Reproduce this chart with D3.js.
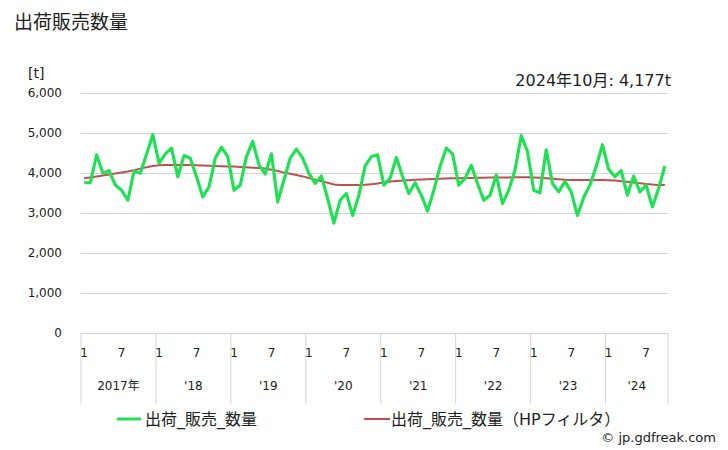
<!DOCTYPE html>
<html><head><meta charset="utf-8">
<script src="https://cdn.jsdelivr.net/npm/d3@7"></script>
<style>
body{margin:0;background:#fff;}
text{font-family:"DejaVu Sans","Noto Sans CJK JP",sans-serif;fill:#222;}
</style></head><body>
<svg id="c" width="728" height="450"></svg>
<script>
const years = ["2017年","'18","'19","'20","'21","'22","'23","'24"];
const monthsPerYear = [12,12,12,12,12,12,12,10];
const yTicks = [0,1000,2000,3000,4000,5000,6000];
const shipments = [
 3756,3756,4454,3992,4059,3697,3571,3319,4050,3992,4470,4958,
 4244,4479,4622,3908,4437,4370,3908,3403,3655,4370,4647,4412,
 3571,3697,4412,4790,4202,3975,4479,3277,3824,4370,4597,4370,
 3992,3739,3924,3361,2748,3319,3487,2941,3445,4176,4412,4454,
 3697,3866,4387,3908,3487,3756,3445,3050,3571,4160,4622,4479,
 3697,3866,4193,3739,3319,3445,3950,3235,3571,4076,4933,4538,
 3571,3504,4580,3739,3529,3790,3529,2941,3387,3697,4160,4706,
 4092,3908,4059,3445,3924,3529,3697,3151,3613,4177
];
const hpTrend = [
 3866,3890,3915,3940,3965,3990,4010,4035,4070,4110,4145,4176,
 4195,4200,4202,4202,4200,4198,4195,4190,4182,4176,4170,4165,
 4160,4152,4143,4132,4122,4110,4080,4050,4010,3980,3950,3915,
 3875,3835,3795,3755,3712,3700,3697,3697,3698,3705,3720,3735,
 3760,3785,3800,3810,3820,3830,3840,3845,3850,3856,3862,3868,
 3870,3872,3876,3880,3882,3885,3887,3889,3890,3891,3891,3891,
 3888,3880,3870,3856,3842,3830,3824,3824,3824,3824,3824,3824,
 3820,3810,3795,3780,3762,3745,3725,3712,3703,3697
];
const seriesNames = ["出荷_販売_数量","出荷_販売_数量（HPフィルタ）"];
const latestLabel = "2024年10月: 4,177t";

const svg = d3.select("#c");
const pLeft = 81, pRight = 668, pTop = 93, pBottom = 333;
const n = shipments.length;
const x = d3.scaleBand().domain(d3.range(n)).range([pLeft, pRight]).paddingInner(0).paddingOuter(0);
const y = d3.scaleLinear().domain([0,6000]).range([pBottom, pTop]);
const cx = i => x(i) + x.bandwidth()/2;

// title
svg.append("text").attr("x",14).attr("y",29).attr("font-size",19).text("出荷販売数量");
svg.append("text").attr("x",28).attr("y",78).attr("font-size",14).text("[t]");
svg.append("text").attr("x",671).attr("y",86).attr("font-size",16).attr("text-anchor","end").text(latestLabel);

// grid
const yAxis = d3.axisLeft(y).tickValues(yTicks).tickSize(-(pRight-pLeft)).tickFormat(d3.format(","));
const gy = svg.append("g").attr("transform",`translate(${pLeft},0)`).call(yAxis);
gy.select(".domain").remove();
gy.selectAll(".tick line").attr("stroke","#d4d4d4").attr("stroke-width",1);
gy.selectAll(".tick text").attr("x",-19).attr("font-size",12).attr("fill","#222")
  .style("font-family",'"DejaVu Sans",sans-serif');

// year dividers
let starts = [0];
monthsPerYear.forEach((m,k)=>starts.push(starts[k]+m));
const bounds = starts.map(s => s < n ? x(s) : pRight);
svg.append("g").selectAll("line").data(bounds).join("line")
  .attr("x1",d=>d).attr("x2",d=>d).attr("y1",pBottom).attr("y2",404)
  .attr("stroke","#d4d4d4").attr("stroke-width",1);

// month ticks 1 and 7
const monthTicks = [];
starts.slice(0,-1).forEach((s,k)=>{
  monthTicks.push({i:s,label:"1"});
  if (monthsPerYear[k] > 6) monthTicks.push({i:s+6,label:"7"});
});
svg.append("g").selectAll("text").data(monthTicks).join("text")
  .attr("x",d=>cx(d.i)).attr("y",357).attr("font-size",12).attr("text-anchor","middle").text(d=>d.label);
svg.append("g").selectAll("text").data(years).join("text")
  .attr("x",(d,k)=>(bounds[k]+bounds[k+1])/2).attr("y",390).attr("font-size",12)
  .attr("text-anchor","middle").text(d=>d);

// lines
const line = d3.line().x((d,i)=>cx(i)).y(d=>y(d));
svg.append("path").datum(hpTrend).attr("d",line).attr("fill","none")
  .attr("stroke","#c0504d").attr("stroke-width",2);
svg.append("path").datum(shipments).attr("d",line).attr("fill","none")
  .attr("stroke","#22e055").attr("stroke-width",3.2).attr("stroke-linejoin","round");

// legend
const lg = svg.append("g");
lg.append("line").attr("x1",117).attr("x2",141).attr("y1",419).attr("y2",419).attr("stroke","#22e055").attr("stroke-width",3);
lg.append("text").attr("x",145).attr("y",425).attr("font-size",16).text(seriesNames[0]);
lg.append("line").attr("x1",364).attr("x2",390).attr("y1",419).attr("y2",419).attr("stroke","#c0504d").attr("stroke-width",2);
lg.append("text").attr("x",391).attr("y",425).attr("font-size",16).text(seriesNames[1]);

svg.append("text").attr("x",716).attr("y",442).attr("font-size",13).attr("text-anchor","end").text("© jp.gdfreak.com");
</script></body></html>
